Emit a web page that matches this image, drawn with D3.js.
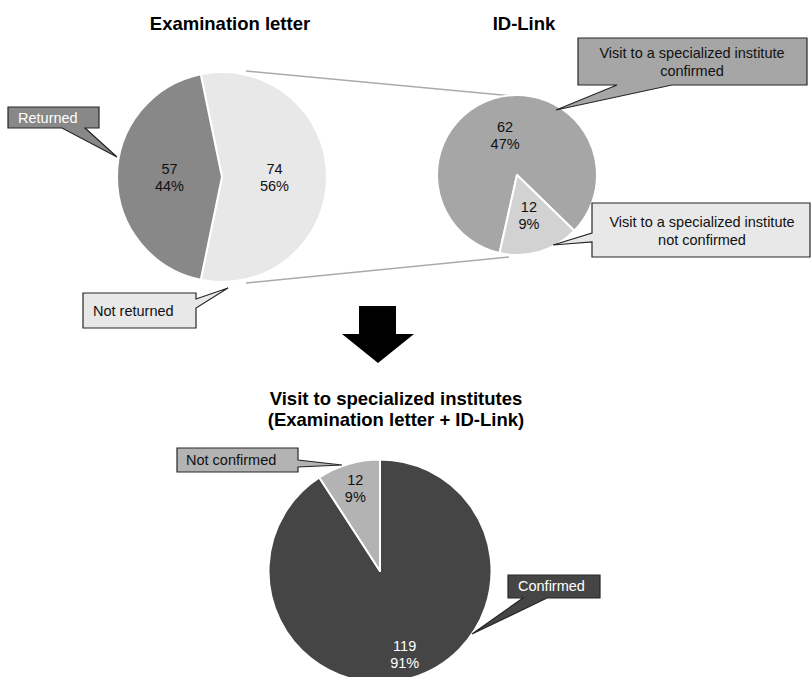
<!DOCTYPE html>
<html>
<head>
<meta charset="utf-8">
<script src="https://cdn.jsdelivr.net/npm/d3@7"></script>
<style>
  html, body { margin: 0; padding: 0; background: #fff; }
  svg { display: block; font-family: "Liberation Sans", Arial, sans-serif; }
</style>
</head>
<body>
<svg id="chart" width="812" height="677"></svg>
<script>
// Examination letter outcome
const letterCategories = ["Not returned", "Returned"];
const letterValues = [74, 57];

// ID-Link breakdown of letters not returned
const idLinkCategories = ["Visit to a specialized institute confirmed", "Visit to a specialized institute not confirmed"];
const idLinkValues = [62, 12];

// Combined result
const totalCategories = ["Confirmed", "Not confirmed"];
const totalValues = [119, 12];

const titles = ["Examination letter", "ID-Link"];
const combinedTitle = ["Visit to specialized institutes", "(Examination letter + ID-Link)"];

const grandTotal = d3.sum(letterValues);
const pct = v => Math.round(v / grandTotal * 100) + "%";

const svg = d3.select("#chart");
const deg = Math.PI / 180;

// Callout: rectangle with a wedge pointer on one side
function calloutPath(x, y, w, h, side, b1, b2, tip) {
  const p = d3.path();
  p.moveTo(x, y);
  p.lineTo(x + w, y);
  if (side === "right") { p.lineTo(x + w, b1); p.lineTo(tip[0], tip[1]); p.lineTo(x + w, b2); }
  p.lineTo(x + w, y + h);
  if (side === "bottom") { p.lineTo(b2, y + h); p.lineTo(tip[0], tip[1]); p.lineTo(b1, y + h); }
  p.lineTo(x, y + h);
  if (side === "left") { p.lineTo(x, b2); p.lineTo(tip[0], tip[1]); p.lineTo(x, b1); }
  p.closePath();
  return p.toString();
}

function callout(cfg) {
  const g = svg.append("g");
  g.append("path")
    .attr("d", calloutPath(cfg.x, cfg.y, cfg.w, cfg.h, cfg.side, cfg.b1, cfg.b2, cfg.tip))
    .attr("fill", cfg.fill)
    .attr("stroke", "#262626")
    .attr("stroke-width", 1.2)
    .attr("stroke-linejoin", "miter");
  const t = g.append("text")
    .attr("font-size", 14.5)
    .attr("fill", cfg.textColor)
    .attr("text-anchor", cfg.anchor || "start");
  cfg.lines.forEach((ln, i) => {
    t.append("tspan").attr("x", cfg.tx).attr("y", cfg.ty + i * 18).text(ln);
  });
}

// Pie renderer
function drawPie(cfg) {
  const pie = d3.pie().sort(null).startAngle(cfg.start).endAngle(cfg.start + 2 * Math.PI);
  const arcs = pie(cfg.values);
  const arc = d3.arc().innerRadius(0).outerRadius(cfg.r);
  const labelArc = d3.arc().innerRadius(cfg.r * cfg.labelPos).outerRadius(cfg.r * cfg.labelPos);
  const g = svg.append("g").attr("transform", `translate(${cfg.cx},${cfg.cy})`);
  g.selectAll("path.slice").data(arcs).join("path")
    .attr("class", "slice")
    .attr("d", arc)
    .attr("fill", (d, i) => cfg.colors[i])
    .attr("stroke", "#fff")
    .attr("stroke-width", 2)
    .attr("stroke-linejoin", "round");
  const lab = g.selectAll("text.lab").data(arcs).join("text")
    .attr("class", "lab")
    .attr("text-anchor", "middle")
    .attr("font-size", 14.5)
    .attr("fill", (d, i) => cfg.textColors[i])
    .attr("transform", d => `translate(${labelArc.centroid(d)})`);
  lab.append("tspan").attr("x", 0).attr("y", -3).text(d => d.data);
  lab.append("tspan").attr("x", 0).attr("y", 14).text(d => pct(d.data));
}

// Titles
svg.append("text").attr("x", 230).attr("y", 30).attr("text-anchor", "middle")
  .attr("font-size", 18.5).attr("font-weight", "bold").text(titles[0]);
svg.append("text").attr("x", 524).attr("y", 30).attr("text-anchor", "middle")
  .attr("font-size", 18.5).attr("font-weight", "bold").text(titles[1]);

// Connector lines between the two upper pies
svg.append("line").attr("x1", 246).attr("y1", 71).attr("x2", 512).attr("y2", 96)
  .attr("stroke", "#aaa").attr("stroke-width", 1.5);
svg.append("line").attr("x1", 246).attr("y1", 283).attr("x2", 509).attr("y2", 257)
  .attr("stroke", "#aaa").attr("stroke-width", 1.5);

// Examination letter pie: "Not returned" centered on the right side
const notRetShare = letterValues[0] / grandTotal;
drawPie({
  cx: 222, cy: 177, r: 105,
  values: letterValues,
  start: Math.PI / 2 - notRetShare * Math.PI,
  colors: ["#e8e8e8", "#888888"],
  textColors: ["#111", "#111"],
  labelPos: 0.5
});

// ID-Link pie
drawPie({
  cx: 517, cy: 175, r: 80,
  values: idLinkValues,
  start: 192.6 * deg,
  colors: ["#a6a6a6", "#d2d2d2"],
  textColors: ["#111", "#111"],
  labelPos: 0.52
});

// Callouts on upper pies
callout({ x: 8, y: 107, w: 91, h: 21, side: "bottom", b1: 62, b2: 85, tip: [117, 157],
  fill: "#888888", textColor: "#fff", lines: [letterCategories[1]], tx: 18, ty: 123 });
callout({ x: 83, y: 293, w: 113, h: 35, side: "right", b1: 299, b2: 308, tip: [228, 288],
  fill: "#e8e8e8", textColor: "#111", lines: [letterCategories[0]], tx: 93, ty: 316 });
callout({ x: 578, y: 38, w: 229, h: 47, side: "bottom", b1: 617, b2: 672, tip: [556, 110],
  fill: "#a6a6a6", textColor: "#111", anchor: "middle",
  lines: ["Visit to a specialized institute", "confirmed"], tx: 692, ty: 58 });
callout({ x: 592, y: 203, w: 218, h: 54, side: "left", b1: 233, b2: 242, tip: [553, 245],
  fill: "#e8e8e8", textColor: "#111", anchor: "middle",
  lines: ["Visit to a specialized institute", "not confirmed"], tx: 702, ty: 227 });

// Down arrow
svg.append("path")
  .attr("d", "M359,306 H396 V334 H414 L378,363 L342,334 H359 Z")
  .attr("fill", "#000");

// Combined title
svg.append("text").attr("text-anchor", "middle").attr("font-size", 18.5).attr("font-weight", "bold")
  .selectAll("tspan").data(combinedTitle).join("tspan")
  .attr("x", 396).attr("y", (d, i) => 405 + i * 21).text(d => d);

// Combined pie
drawPie({
  cx: 380, cy: 571, r: 111.5,
  values: totalValues,
  start: 0,
  colors: ["#454545", "#b3b3b3"],
  textColors: ["#fff", "#111"],
  labelPos: 0.78
});

callout({ x: 177, y: 448, w: 121, h: 24, side: "right", b1: 460, b2: 467, tip: [342, 465],
  fill: "#b3b3b3", textColor: "#111", lines: [totalCategories[1]], tx: 186, ty: 465 });
callout({ x: 508, y: 575, w: 92, h: 23, side: "bottom", b1: 523, b2: 547, tip: [472, 634],
  fill: "#454545", textColor: "#fff", lines: [totalCategories[0]], tx: 518, ty: 591 });
</script>
</body>
</html>
